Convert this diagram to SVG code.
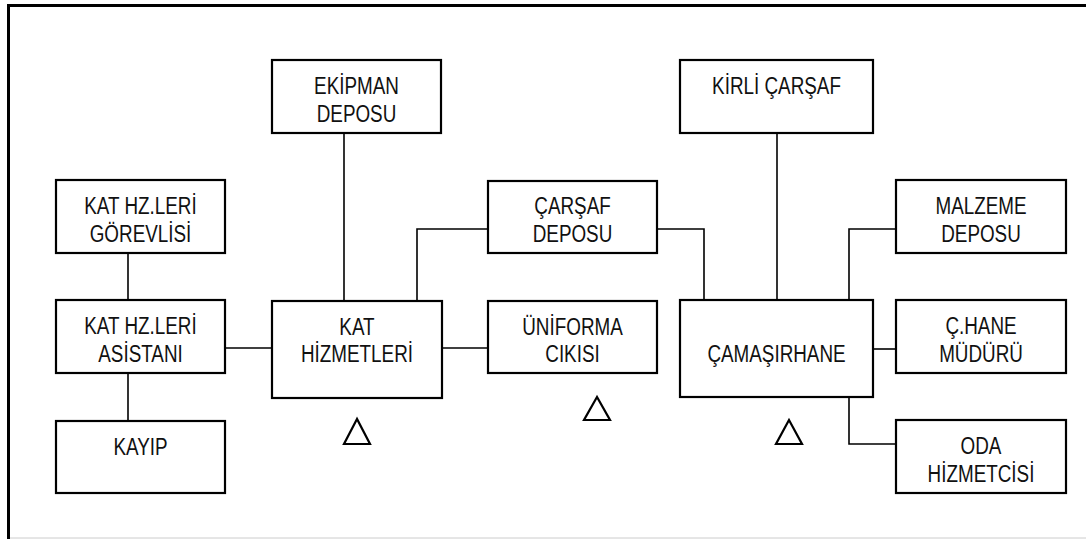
<svg xmlns="http://www.w3.org/2000/svg" width="1086" height="539" viewBox="0 0 1086 539">
<style>
.box{fill:#fff;stroke:#000;stroke-width:2.2}
.ln{fill:none;stroke:#000;stroke-width:1.6}
.tri{fill:none;stroke:#000;stroke-width:2.2;stroke-linejoin:miter}
text{font-family:"Liberation Sans",Arial,sans-serif;font-size:23px;fill:#111;text-anchor:middle}
</style>
<rect x="0" y="0" width="1086" height="539" fill="#fff"/>
<g id="frame">
<line x1="7" y1="5.5" x2="1086" y2="5.5" stroke="#000" stroke-width="3"/>
<line x1="8.5" y1="4" x2="8.5" y2="539" stroke="#000" stroke-width="3"/>
<line x1="10" y1="538" x2="1086" y2="538" stroke="#ccc" stroke-width="1"/>
</g>
<g id="connectors">
<line class="ln" x1="128" y1="253" x2="128" y2="300"/>
<line class="ln" x1="128" y1="373" x2="128" y2="421"/>
<line class="ln" x1="225" y1="348" x2="272" y2="348"/>
<line class="ln" x1="344" y1="133" x2="344" y2="301"/>
<polyline class="ln" points="488,229 417,229 417,301"/>
<line class="ln" x1="442" y1="348" x2="488" y2="348"/>
<polyline class="ln" points="657,229 704,229 704,300"/>
<line class="ln" x1="777" y1="133" x2="777" y2="300"/>
<polyline class="ln" points="896,229 849,229 849,300"/>
<line class="ln" x1="873" y1="349" x2="896" y2="349"/>
<polyline class="ln" points="849,397 849,444 896,444"/>
</g>
<g id="kat-hz-gorevlisi">
<rect class="box" x="56" y="180" width="169" height="73"/>
<g transform="translate(140.5,0) scale(0.82,1)"><text x="0" y="214">KAT HZ.LERİ</text><text x="0" y="242">GÖREVLİSİ</text></g>
</g>
<g id="kat-hz-asistani">
<rect class="box" x="56" y="300" width="169" height="73"/>
<g transform="translate(140.5,0) scale(0.82,1)"><text x="0" y="334">KAT HZ.LERİ</text><text x="0" y="362">ASİSTANI</text></g>
</g>
<g id="kayip">
<rect class="box" x="56" y="421" width="169" height="72"/>
<g transform="translate(140.5,0) scale(0.82,1)"><text x="0" y="455">KAYIP</text></g>
</g>
<g id="ekipman-deposu">
<rect class="box" x="272" y="60" width="169" height="73"/>
<g transform="translate(356.5,0) scale(0.82,1)"><text x="0" y="94">EKİPMAN</text><text x="0" y="122">DEPOSU</text></g>
</g>
<g id="kat-hizmetleri">
<rect class="box" x="272" y="301" width="170" height="97"/>
<g transform="translate(357,0) scale(0.82,1)"><text x="0" y="335">KAT</text><text x="0" y="362">HİZMETLERİ</text></g>
</g>
<g id="carsaf-deposu">
<rect class="box" x="488" y="181" width="169" height="72"/>
<g transform="translate(572.5,0) scale(0.82,1)"><text x="0" y="214">ÇARŞAF</text><text x="0" y="242">DEPOSU</text></g>
</g>
<g id="uniforma-cikisi">
<rect class="box" x="488" y="301" width="169" height="72"/>
<g transform="translate(572.5,0) scale(0.82,1)"><text x="0" y="335">ÜNİFORMA</text><text x="0" y="362">CIKISI</text></g>
</g>
<g id="kirli-carsaf">
<rect class="box" x="680" y="60" width="193" height="73"/>
<g transform="translate(776.5,0) scale(0.82,1)"><text x="0" y="94">KİRLİ ÇARŞAF</text></g>
</g>
<g id="camasirhane">
<rect class="box" x="680" y="300" width="193" height="97"/>
<g transform="translate(776.5,0) scale(0.82,1)"><text x="0" y="362">ÇAMAŞIRHANE</text></g>
</g>
<g id="malzeme-deposu">
<rect class="box" x="896" y="180" width="170" height="73"/>
<g transform="translate(981,0) scale(0.82,1)"><text x="0" y="214">MALZEME</text><text x="0" y="242">DEPOSU</text></g>
</g>
<g id="chane-muduru">
<rect class="box" x="896" y="300" width="170" height="73"/>
<g transform="translate(981,0) scale(0.82,1)"><text x="0" y="334">Ç.HANE</text><text x="0" y="362">MÜDÜRÜ</text></g>
</g>
<g id="oda-hizmetcisi">
<rect class="box" x="896" y="420" width="170" height="73"/>
<g transform="translate(981,0) scale(0.82,1)"><text x="0" y="454">ODA</text><text x="0" y="482">HİZMETCİSİ</text></g>
</g>
<g id="markers">
<polygon class="tri" points="357,419 344,444 370,444"/>
<polygon class="tri" points="597,397 584,420 610,420"/>
<polygon class="tri" points="789,420 776,444 802,444"/>
</g>
</svg>
